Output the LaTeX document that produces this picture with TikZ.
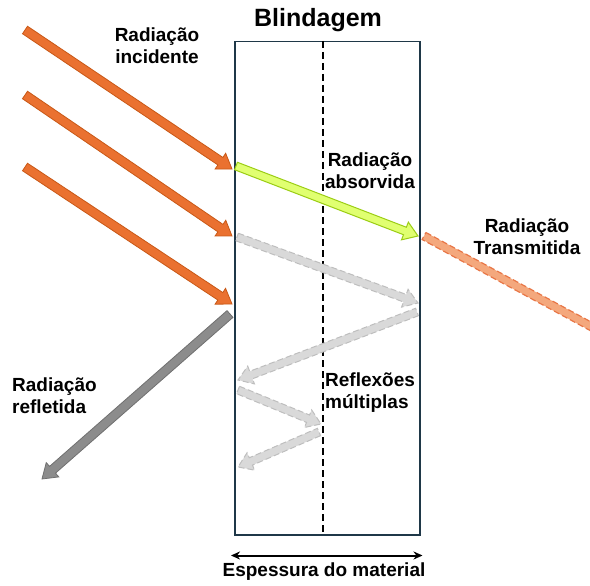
\documentclass[tikz,border=0pt]{standalone}
\usepackage{fontspec}
\setmainfont{Liberation Sans}
\usetikzlibrary{arrows.meta, calc}
\definecolor{incident}{RGB}{234,113,48}
\definecolor{incidentdark}{RGB}{200,88,22}
\definecolor{absorbed}{RGB}{224,255,112}
\definecolor{absorbeddark}{RGB}{155,205,20}
\definecolor{transm}{RGB}{244,168,125}
\definecolor{transmdark}{RGB}{232,118,70}
\definecolor{multi}{RGB}{217,217,217}
\definecolor{multidark}{RGB}{190,190,190}
\definecolor{reflect}{RGB}{140,140,140}
\definecolor{reflectdark}{RGB}{112,112,112}
\definecolor{shieldline}{RGB}{31,56,72}
\tikzset{
  lbl/.style={font=\fontsize{19}{22}\selectfont\bfseries, inner sep=0pt},
  incarrow/.style={fill=incident, draw=incidentdark, line width=0.8pt},
  absarrow/.style={fill=absorbed, draw=absorbeddark, line width=1pt},
  trbar/.style={fill=transm, draw=transmdark, line width=1.2pt, dash pattern=on 6pt off 3pt},
  multarrow/.style={fill=multi, draw=multidark, line width=1pt, dash pattern=on 6pt off 3pt},
  refarrow/.style={fill=reflect, draw=reflectdark, line width=0.8pt},
}
% block arrow from #3 to #4, half shaft width #1
\newcommand{\blockarrow}[4][4.5pt]{%
  \coordinate (hb) at ($(#4)!14pt!(#3)$);
  \path[#2] ($(#3)!#1!90:(#4)$) -- ($(hb)!#1!90:(#4)$) -- ($(hb)!9.5pt!90:(#4)$)
    -- (#4) -- ($(hb)!9.5pt!-90:(#4)$) -- ($(hb)!#1!-90:(#4)$) -- ($(#3)!#1!-90:(#4)$) -- cycle;}

\begin{document}
\begin{tikzpicture}[x=1pt, y=-1pt]
  \useasboundingbox (0,0) rectangle (590,586);

  % shield
  \node[draw=shieldline, line width=1.5pt, minimum width=185pt, minimum height=493pt,
        anchor=north west, inner sep=0pt] (shield) at (234,41) {};
  \coordinate (midtop) at (323,41);
  \coordinate (midbot) at (323,534);
  \draw[dashed, line width=1.2pt, dash pattern=on 7pt off 4pt] (midtop) -- (midbot);

  \node[font=\fontsize{25}{28}\selectfont\bfseries, inner sep=0pt] (title) at (318,20) {Blindagem};

  % incident
  \coordinate (i1s) at (25,30);  \coordinate (i1e) at (232,169);
  \coordinate (i2s) at (25,95);  \coordinate (i2e) at (232,236);
  \coordinate (i3s) at (25,167); \coordinate (i3e) at (232,304);
  \blockarrow{incarrow}{i1s}{i1e}
  \blockarrow{incarrow}{i2s}{i2e}
  \blockarrow{incarrow}{i3s}{i3e}

  % absorbed / transmitted
  \coordinate (as) at (236,166); \coordinate (ae) at (418,236);
  \blockarrow[4pt]{absarrow}{as}{ae}
  \coordinate (ts) at (424,236); \coordinate (te) at (592,327);
  \path[trbar] ($(ts)!4pt!90:(te)$) -- ($(te)!4pt!-90:(ts)$) -- ($(te)!4pt!90:(ts)$) -- ($(ts)!4pt!-90:(te)$) -- cycle;

  % multiple reflections
  \coordinate (m1s) at (237,237); \coordinate (m1e) at (418,303);
  \coordinate (m2s) at (417,312); \coordinate (m2e) at (238,380);
  \coordinate (m3s) at (238,390); \coordinate (m3e) at (321,424);
  \coordinate (m4s) at (319,432); \coordinate (m4e) at (238,467);
  \blockarrow[4pt]{multarrow}{m1s}{m1e}
  \blockarrow[4pt]{multarrow}{m2s}{m2e}
  \blockarrow[4pt]{multarrow}{m3s}{m3e}
  \blockarrow[4pt]{multarrow}{m4s}{m4e}

  % reflected
  \coordinate (rs) at (230,314); \coordinate (re) at (42,479);
  \blockarrow{refarrow}{rs}{re}

  % labels
  \node[lbl, align=center] (inc) at (157,46) {Radiação\\incidente};
  \node[lbl, align=center] (abs) at (370,171) {Radiação\\absorvida};
  \node[lbl, align=center] (tra) at (527,237) {Radiação\\Transmitida};
  \node[lbl, align=left, anchor=west] (ref) at (12,396) {Radiação\\refletida};
  \node[lbl, align=left, anchor=west] (mul) at (325,393) {Reflexões\\múltiplas};

  % thickness
  \coordinate (thl) at ($(shield.south west)+(-3,20)$);
  \coordinate (thr) at ($(shield.south east)+(2,20)$);
  \draw[{Stealth[length=9pt,width=8pt]}-{Stealth[length=9pt,width=8pt]}, line width=2pt] (thl) -- (thr);
  \node[lbl] (thk) at (324,572) {Espessura do material};
\end{tikzpicture}
\end{document}
